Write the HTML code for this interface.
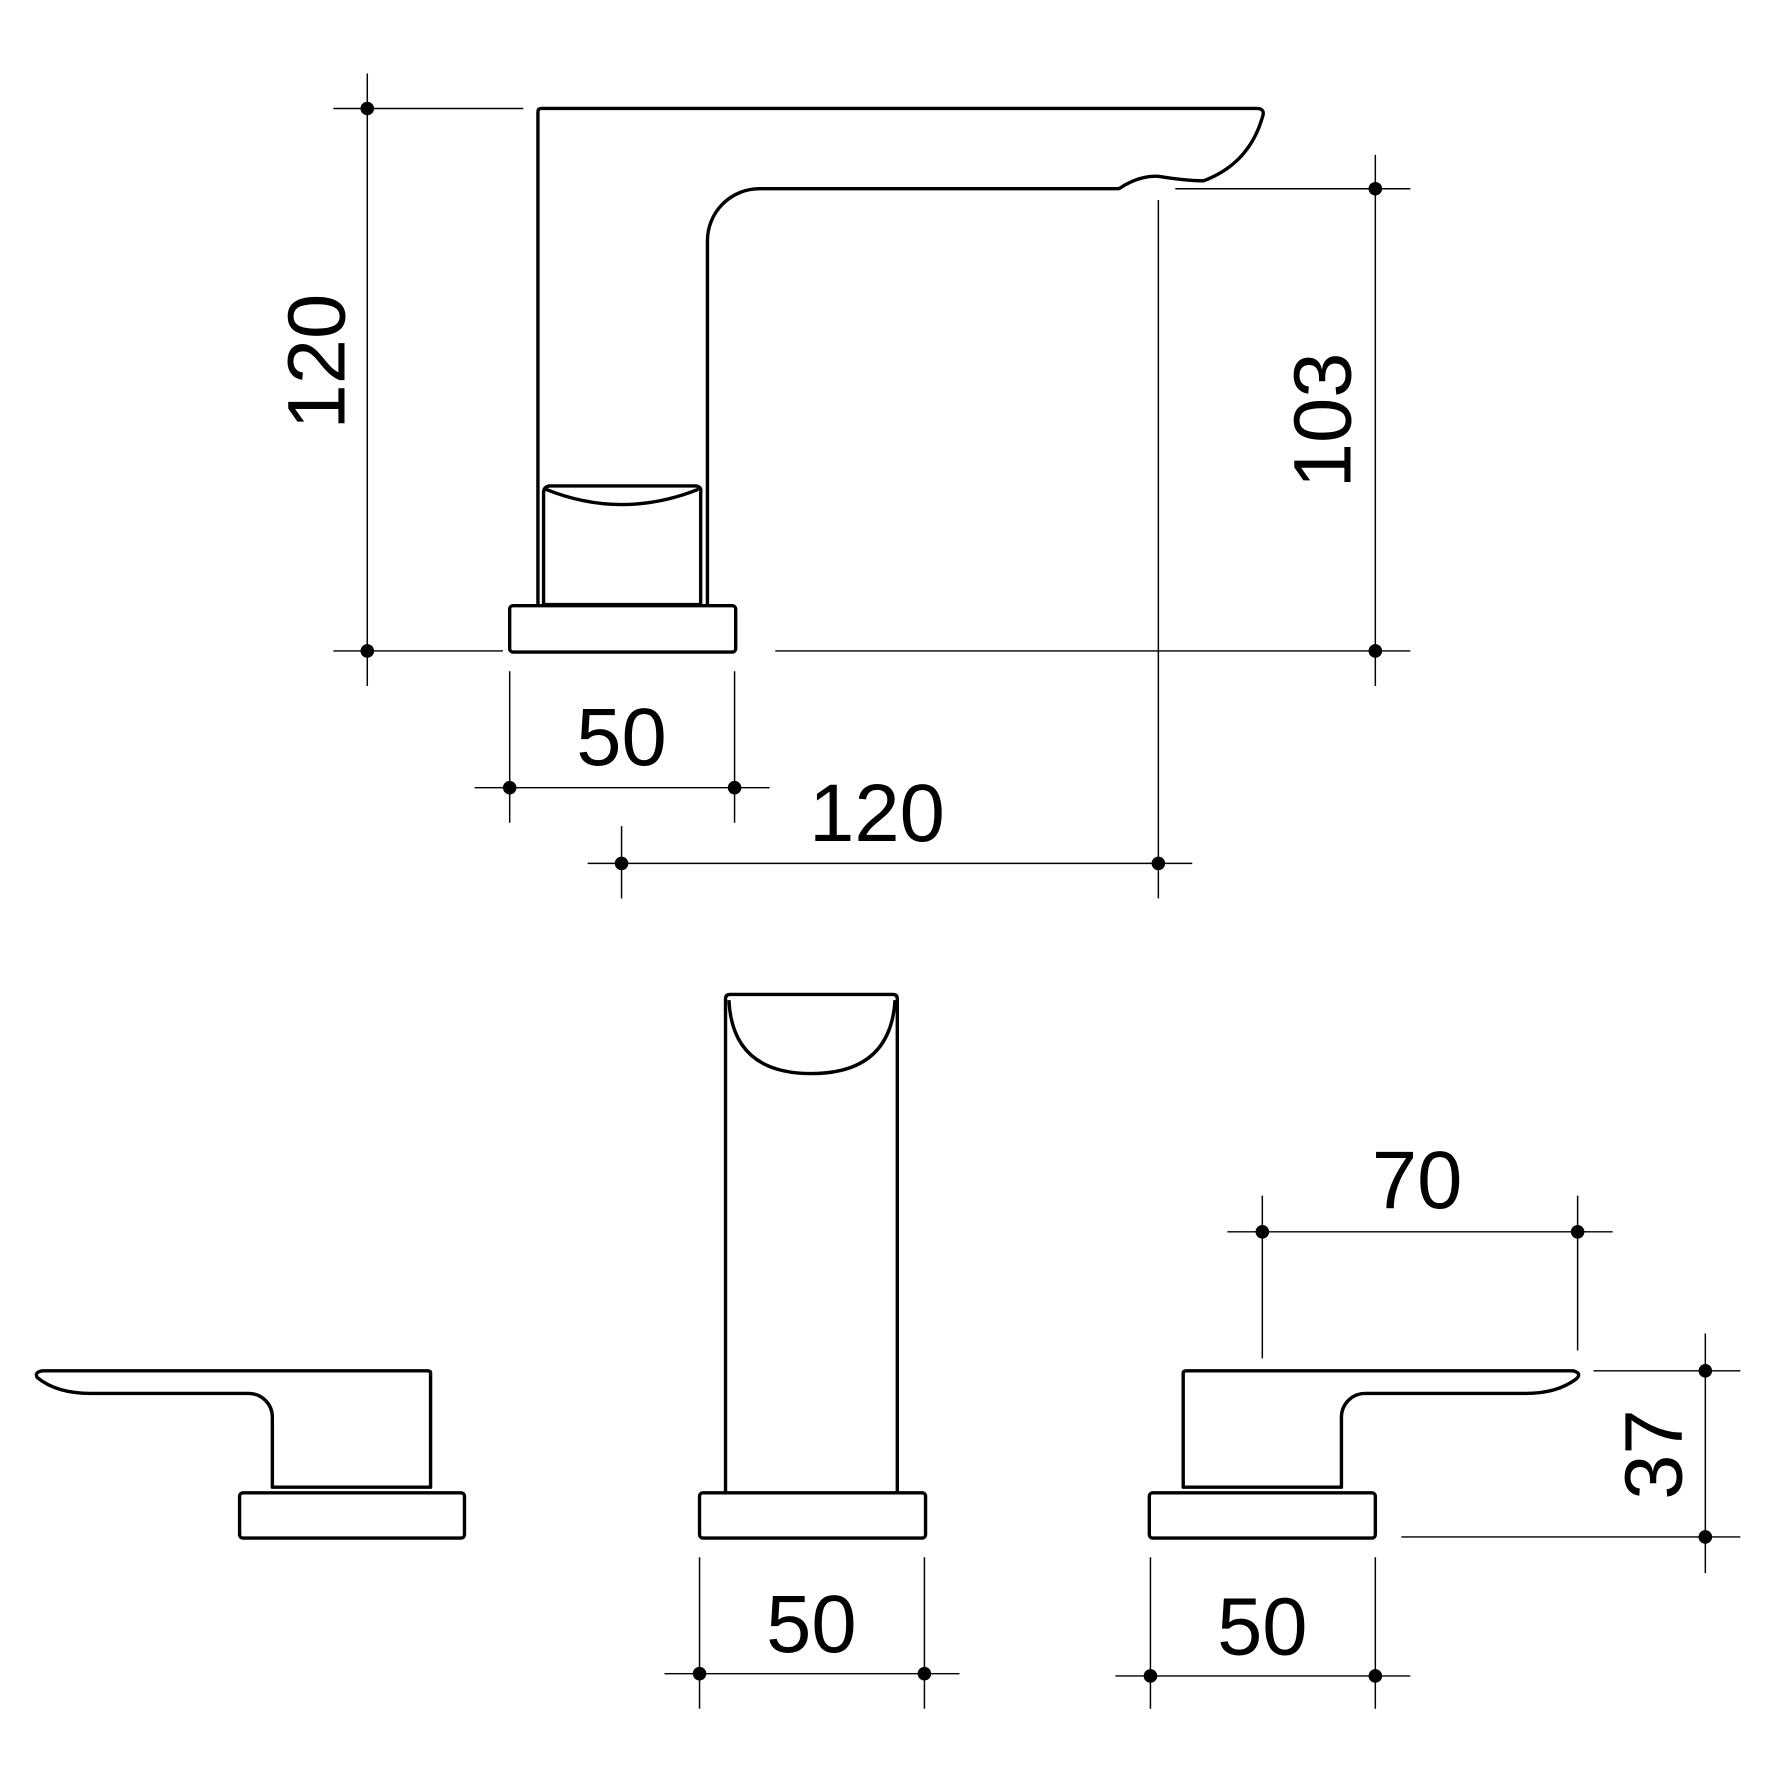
<!DOCTYPE html>
<html><head><meta charset="utf-8"><style>html,body{margin:0;padding:0;background:#fff}svg{display:block}</style></head>
<body>
<svg width="1772" height="1772" viewBox="0 0 1568 1568" xmlns="http://www.w3.org/2000/svg">
<g fill="none" stroke="#000" stroke-width="3" stroke-linejoin="round">
<path d="M476,535 L476,99 Q476,96 479,96 L1112,96 Q1120,96 1117,104 Q1105,145 1065,160 Q1050,160 1025,156 Q1008,155 990,167 L672,167 A46,46 0 0 0 626,213 L626,535"/>
<path d="M481,535 L481,436 Q481,431 486,430 L616,430 Q621,431 620,436 L620,535 Z"/>
<path d="M483,433 Q550,460 618,433"/>
<rect x="451" y="536" width="200" height="41" rx="3"/>
<path d="M642,1320 L642,884 Q642,880 646,880 L790,880 Q794,880 794,884 L794,1320"/>
<path d="M645,885 Q648,950 718,950 Q788,950 792,885"/>
<rect x="619" y="1321" width="200" height="40" rx="3"/>
<rect x="212" y="1321" width="199" height="40" rx="3"/>
<path d="M381,1316 L381,1215 Q381,1213 378,1213 L38,1213 Q30,1214 33,1219 Q50,1233 80,1233 L220,1233 A21,21 0 0 1 241,1254 L241,1316 Z"/>
<rect x="1017" y="1321" width="200" height="40" rx="3"/>
<path d="M1047,1316 L1047,1215 Q1047,1213 1050,1213 L1392,1213 Q1400,1215 1395,1220 Q1378,1233 1350,1233 L1208,1233 A21,21 0 0 0 1187,1254 L1187,1316 Z"/>
</g>
<g stroke="#000" stroke-width="1.3">
<line x1="325" y1="65" x2="325" y2="607"/><line x1="295" y1="96" x2="463" y2="96"/><line x1="295" y1="576" x2="445" y2="576"/>
<line x1="686" y1="576" x2="1248" y2="576"/>
<line x1="1217" y1="137" x2="1217" y2="607"/><line x1="1040" y1="167" x2="1248" y2="167"/>
<line x1="1025" y1="177" x2="1025" y2="795"/>
<line x1="520" y1="764" x2="1055" y2="764"/><line x1="550" y1="731" x2="550" y2="795"/>
<line x1="420" y1="697" x2="681" y2="697"/><line x1="451" y1="594" x2="451" y2="728"/><line x1="650" y1="594" x2="650" y2="728"/>
<line x1="588" y1="1481" x2="849" y2="1481"/><line x1="619" y1="1378" x2="619" y2="1512"/><line x1="818" y1="1378" x2="818" y2="1512"/>
<line x1="987" y1="1483" x2="1248" y2="1483"/><line x1="1018" y1="1378" x2="1018" y2="1512"/><line x1="1217" y1="1378" x2="1217" y2="1512"/>
<line x1="1086" y1="1090" x2="1427" y2="1090"/><line x1="1117" y1="1058" x2="1117" y2="1202"/><line x1="1396" y1="1058" x2="1396" y2="1195"/>
<line x1="1509" y1="1180" x2="1509" y2="1392"/><line x1="1410" y1="1213" x2="1540" y2="1213"/><line x1="1240" y1="1360" x2="1540" y2="1360"/>
</g>
<g fill="#000">
<circle cx="325" cy="96" r="6"/><circle cx="325" cy="576" r="6"/>
<circle cx="1217" cy="167" r="6"/><circle cx="1217" cy="576" r="6"/>
<circle cx="550" cy="764" r="6"/><circle cx="1025" cy="764" r="6"/>
<circle cx="451" cy="697" r="6"/><circle cx="650" cy="697" r="6"/>
<circle cx="619" cy="1481" r="6"/><circle cx="818" cy="1481" r="6"/>
<circle cx="1018" cy="1483" r="6"/><circle cx="1217" cy="1483" r="6"/>
<circle cx="1117" cy="1090" r="6"/><circle cx="1396" cy="1090" r="6"/>
<circle cx="1509" cy="1213" r="6"/><circle cx="1509" cy="1360" r="6"/>
</g>
<g font-family="Liberation Sans, sans-serif" font-size="72" text-anchor="middle" fill="#000">
<text x="550" y="677">50</text>
<text x="776" y="744">120</text>
<text x="718" y="1462">50</text>
<text x="1117" y="1464">50</text>
<text x="1254" y="1069">70</text>
<text transform="translate(305,320) rotate(-90)">120</text>
<text transform="translate(1195,372) rotate(-90)">103</text>
<text transform="translate(1488,1287) rotate(-90)">37</text>
</g>
</svg>
</body></html>
